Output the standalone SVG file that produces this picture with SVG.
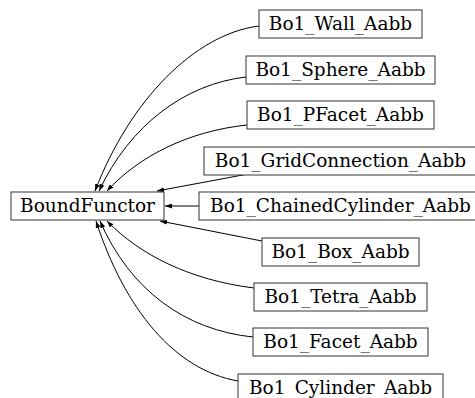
<svg xmlns="http://www.w3.org/2000/svg" width="475" height="398" viewBox="0 0 475 398">
<style>
.node rect{fill:#fff;stroke:#333;stroke-width:1}
.node text{font-family:"DejaVu Serif",serif;font-size:18.5px;fill:#000;text-anchor:middle}
.edges path{fill:none;stroke:#000;stroke-width:1}
</style>
<defs>
<marker id="ah" viewBox="0 0 7 5" refX="7" refY="2.5" markerWidth="7" markerHeight="5" markerUnits="userSpaceOnUse" orient="auto">
<path d="M0,0 L7,2.5 L0,5 z" fill="#000"/>
</marker>
</defs>
<rect width="475" height="398" fill="#fff"/>
<g class="edges">
<path d="M259,26 C195,34 130,100 95,191" marker-end="url(#ah)"/>
<path d="M246,77 C185,84 130,125 99,191" marker-end="url(#ah)"/>
<path d="M247,125 C190,131 140,155 107,191" marker-end="url(#ah)"/>
<path d="M248,174 L157,191" marker-end="url(#ah)"/>
<path d="M199,206 L165,206" marker-end="url(#ah)"/>
<path d="M262,241 L160,221" marker-end="url(#ah)"/>
<path d="M254,288 C190,280 140,255 107,221" marker-end="url(#ah)"/>
<path d="M253,337 C185,330 130,290 100,221" marker-end="url(#ah)"/>
<path d="M238,381 C175,370 125,310 96,221" marker-end="url(#ah)"/>
</g>
<g id="BoundFunctor" class="node"><rect x="11" y="192" width="153" height="28"/><text x="87.5" y="212">BoundFunctor</text></g>
<g id="Bo1_Wall_Aabb" class="node"><rect x="259" y="10" width="163" height="28"/><text x="340.5" y="30">Bo1_Wall_Aabb</text></g>
<g id="Bo1_Sphere_Aabb" class="node"><rect x="246" y="56" width="189" height="28"/><text x="340.5" y="76">Bo1_Sphere_Aabb</text></g>
<g id="Bo1_PFacet_Aabb" class="node"><rect x="247" y="101" width="187" height="28"/><text x="340.5" y="121">Bo1_PFacet_Aabb</text></g>
<g id="Bo1_GridConnection_Aabb" class="node"><rect x="204" y="147" width="273" height="28"/><text x="340.5" y="167">Bo1_GridConnection_Aabb</text></g>
<g id="Bo1_ChainedCylinder_Aabb" class="node"><rect x="199" y="192" width="283" height="28"/><text x="340.5" y="212">Bo1_ChainedCylinder_Aabb</text></g>
<g id="Bo1_Box_Aabb" class="node"><rect x="262" y="238" width="157" height="28"/><text x="340.5" y="258">Bo1_Box_Aabb</text></g>
<g id="Bo1_Tetra_Aabb" class="node"><rect x="254" y="283" width="173" height="28"/><text x="340.5" y="303">Bo1_Tetra_Aabb</text></g>
<g id="Bo1_Facet_Aabb" class="node"><rect x="253" y="328" width="175" height="28"/><text x="340.5" y="348">Bo1_Facet_Aabb</text></g>
<g id="Bo1_Cylinder_Aabb" class="node"><rect x="238" y="374" width="205" height="28"/><text x="340.5" y="394">Bo1_Cylinder_Aabb</text></g>
</svg>
